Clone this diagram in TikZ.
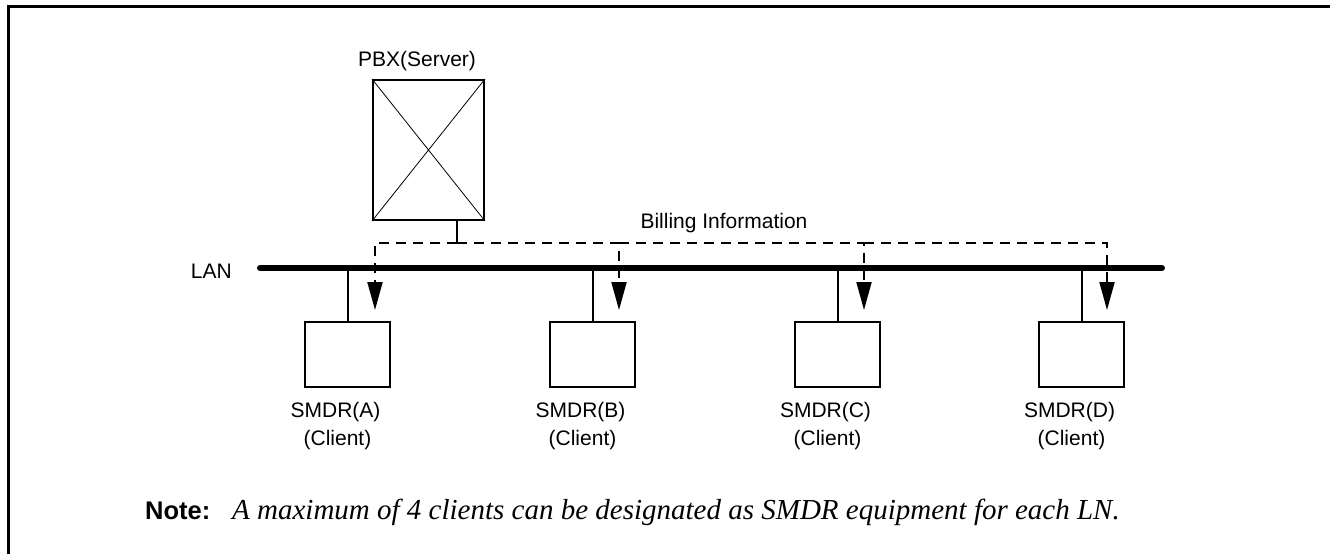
\documentclass[tikz,border=0pt]{standalone}
\usepackage{fontspec}
\setmainfont{Liberation Serif}
\setsansfont{Liberation Sans}
\usetikzlibrary{arrows.meta}
\begin{document}
\begin{tikzpicture}[x=1pt,y=-1pt,
  lbl/.style={font=\sffamily\fontsize{21}{25}\selectfont,inner sep=0pt},
  box/.style={draw,line width=2pt,inner sep=0pt},
  conn/.style={line width=2pt},
  billing/.style={line width=2pt,dash pattern=on 10pt off 7pt,-{Triangle[length=28pt,width=15pt]}},
  lan/.style={line width=6pt,line cap=round}]
\useasboundingbox (0,0) rectangle (1330,554);
% frame
\draw[line width=3pt] (8,554) -- (8,6) -- (1330,6);
% PBX
\node[box,minimum width=111pt,minimum height=140pt] (pbx) at (428.5,150) {};
\draw[line width=0.8pt] (pbx.north west) -- (pbx.south east) (pbx.north east) -- (pbx.south west);
\node[lbl,anchor=base] (pbxl) at (417,66) {PBX(Server)};
% LAN
\coordinate (lanL) at (260,268);
\coordinate (lanR) at (1162,268);
\draw[lan] (lanL) -- (lanR);
\node[lbl,anchor=east] (lanlbl) at (232,271) {LAN};
% clients
\foreach \n/\x/\t in {a/347.5/A,b/592.5/B,c/837.5/C,d/1081.5/D}{
  \node[box,minimum width=85pt,minimum height=65pt] (\n) at (\x,354.5) {};
  \draw[conn] (\n.north) -- (\n.north |- lanL);
  \node[lbl,anchor=base] (\n l1) at (\x-12,417) {SMDR(\t)};
  \node[lbl,anchor=base] (\n l2) at (\x-10,445) {(Client)};
}
% billing
\coordinate (bill) at (457,243);
\coordinate (tA) at (375,310);
\coordinate (tB) at (619,310);
\coordinate (tC) at (864,310);
\coordinate (tD) at (1107,310);
\draw[conn] (pbx.south -| bill) -- (bill);
\draw[billing] (bill) -| (tA);
\draw[billing] (bill) -| (tB);
\draw[billing] (tB |- bill) -| (tC);
\draw[billing] (tC |- bill) -| (tD);
\node[lbl,anchor=base] (billl) at (724,228) {Billing Information};
% note
\node[font=\sffamily\bfseries\fontsize{25.5}{30}\selectfont,inner sep=0pt,anchor=base west] (note) at (145,519) {Note:};
\node[font=\itshape\fontsize{29}{34}\selectfont,inner sep=0pt,anchor=base west] (notet) at (232,519) {A maximum of 4 clients can be designated as SMDR equipment for each LN.};
\end{tikzpicture}
\end{document}
